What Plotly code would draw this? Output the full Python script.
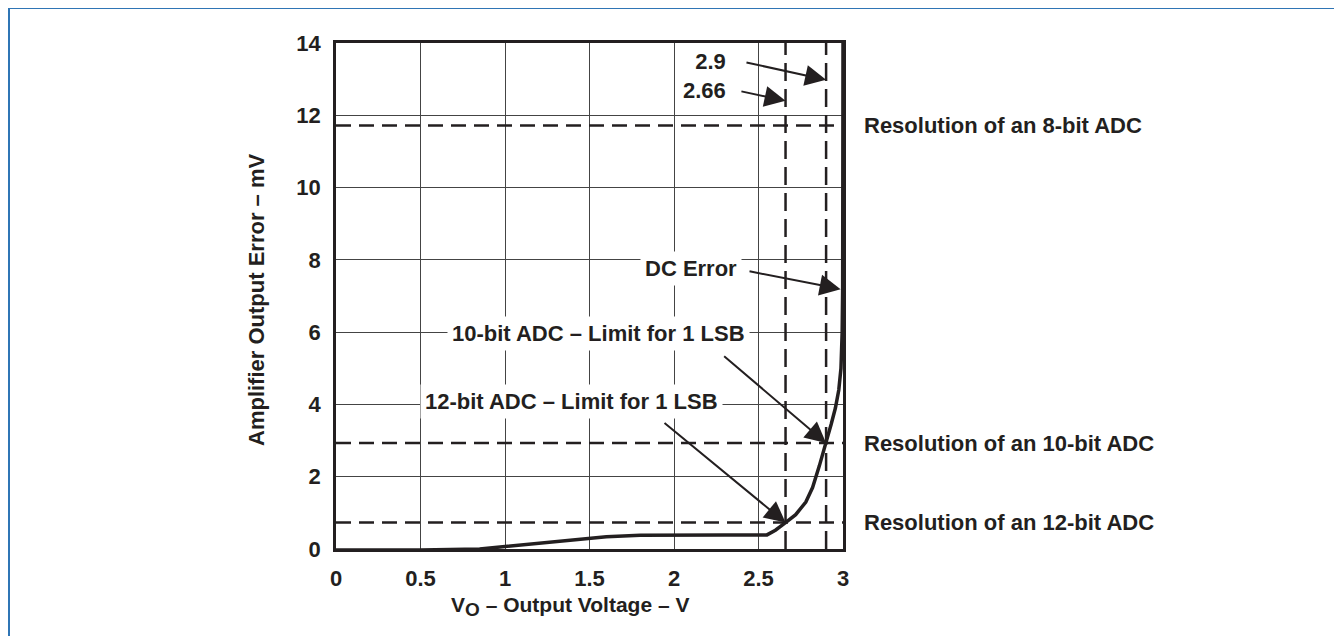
import plotly.graph_objects as go

# ---- data ----
vo = [0.0, 0.5, 0.85, 1.0, 1.2, 1.4, 1.6, 1.8, 2.0, 2.3, 2.55, 2.6, 2.66, 2.72, 2.78,
      2.82, 2.86, 2.9, 2.93, 2.955, 2.975, 2.988, 2.995, 2.998, 3.0]
err_mv = [-0.03, -0.03, 0.0, 0.07, 0.17, 0.27, 0.34, 0.38, 0.39, 0.39, 0.39, 0.52, 0.73, 0.95, 1.3,
          1.7, 2.3, 2.93, 3.45, 3.9, 4.4, 5.0, 6.0, 7.2, 14.0]

res_mv = [11.72, 2.93, 0.73]
res_labels = ["Resolution of an 8-bit ADC", "Resolution of an 10-bit ADC", "Resolution of an 12-bit ADC"]
vo_marks = [2.66, 2.9]

x_ticks = [0, 0.5, 1, 1.5, 2, 2.5, 3]
x_ticklabels = ["0", "0.5", "1", "1.5", "2", "2.5", "3"]
y_ticks = [0, 2, 4, 6, 8, 10, 12, 14]
y_ticklabels = ["0", "2", "4", "6", "8", "10", "12", "14"]

# callout texts: text, anchor point (data units)
callout_texts = [
    ("2.9<br>2.66", (2.34, 13.1)),
    ("DC Error", (2.4, 7.75)),
    ("10-bit ADC – Limit for 1 LSB", (2.45, 5.96)),
    ("12-bit ADC – Limit for 1 LSB", (2.29, 4.07)),
]
# callout arrows: tail, head (data units)
callout_arrows = [
    ((2.42, 13.47), (2.9, 12.98)),
    ((2.39, 12.67), (2.66, 12.4)),
    ((2.438, 7.69), (2.986, 7.19)),
    ((2.288, 5.37), (2.9, 2.93)),
    ((1.935, 3.52), (2.66, 0.73)),
]

# ---- layout geometry (screen pixels of the reference) ----
W, H = 1342, 636
OFF = 8  # page body margin
SL, SR, ST, SB = 336, 843, 43, 549
L, R, T, B = SL - OFF, SR - OFF, ST - OFF, SB - OFF
PW, PH = R - L, B - T


def px(xs):
    return (xs - OFF - L) / PW


def py(ys):
    return (B - (ys - OFF)) / PH


INK = "#231f20"
FONT = dict(family="Liberation Sans, Arial, sans-serif", size=22, color=INK, weight="bold")
XT_FONT = dict(FONT, size=21)

fig = go.Figure()
fig.add_trace(go.Scatter(x=vo, y=err_mv, mode="lines",
                         line=dict(color=INK, width=3.5), cliponaxis=True,
                         showlegend=False, hoverinfo="skip"))

shapes = []
for r in res_mv:
    shapes.append(dict(type="line", xref="x", yref="y", x0=0, x1=3, y0=r, y1=r,
                       line=dict(color=INK, width=2.5, dash="15px,8px"), layer="between"))
for v in vo_marks:
    shapes.append(dict(type="line", xref="x", yref="y", x0=v, x1=v, y0=0, y1=14,
                       line=dict(color=INK, width=2.5, dash="18px,8px"), layer="between"))
# outer frame (top and left)
shapes.append(dict(type="line", xref="paper", yref="paper", x0=px(9), x1=px(W + 20),
                   y0=py(8), y1=py(8), line=dict(color="#2f75b5", width=2)))
shapes.append(dict(type="line", xref="paper", yref="paper", x0=px(9), x1=px(9),
                   y0=py(8), y1=py(H + 20), line=dict(color="#2f75b5", width=2)))

annotations = []
for text, (tx, ty) in callout_texts:
    annotations.append(dict(x=tx, y=ty, xref="x", yref="y", text=text, showarrow=False,
                            xanchor="right", yanchor="middle", align="right", font=FONT,
                            bgcolor="white", borderpad=4))
for (ax, ay), (hx, hy) in callout_arrows:
    annotations.append(dict(x=hx, y=hy, xref="x", yref="y", ax=ax, ay=ay, axref="x", ayref="y",
                            text="", showarrow=True, arrowhead=2, arrowsize=2.1,
                            arrowwidth=2, arrowcolor=INK))
for r, lab in zip(res_mv, res_labels):
    annotations.append(dict(x=px(862), y=r, xref="paper", yref="y", text=lab, showarrow=False,
                            xanchor="left", yanchor="middle", font=FONT))

annotations.append(dict(x=px(256), y=py(300), xref="paper", yref="paper",
                        text="Amplifier Output Error – mV", textangle=-90, showarrow=False,
                        xanchor="center", yanchor="middle", font=FONT))
annotations.append(dict(x=px(570), y=py(606), xref="paper", yref="paper",
                        text="V<sub><span style='font-size:19px'>O</span></sub> – Output Voltage – V",
                        showarrow=False, xanchor="center", yanchor="middle", font=XT_FONT))

fig.update_layout(
    width=W, height=H,
    margin=dict(l=L, r=W - R, t=T, b=H - B, pad=0),
    paper_bgcolor="white", plot_bgcolor="white",
    font=FONT,
    shapes=shapes, annotations=annotations,
    showlegend=False,
)
fig.update_xaxes(range=[0, 3], tickvals=x_ticks, ticktext=x_ticklabels,
                 showgrid=True, gridcolor="#444444", gridwidth=1,
                 showline=True, linecolor=INK, linewidth=2.5, mirror=True,
                 zeroline=False, ticks="", ticklabelstandoff=8, tickfont=FONT)
fig.update_yaxes(range=[0, 14], tickvals=y_ticks, ticktext=y_ticklabels,
                 showgrid=True, gridcolor="#444444", gridwidth=1,
                 showline=True, linecolor=INK, linewidth=2.5, mirror=True,
                 zeroline=False, ticks="", ticklabelstandoff=8, tickfont=FONT)

fig.write_html("out.html")
